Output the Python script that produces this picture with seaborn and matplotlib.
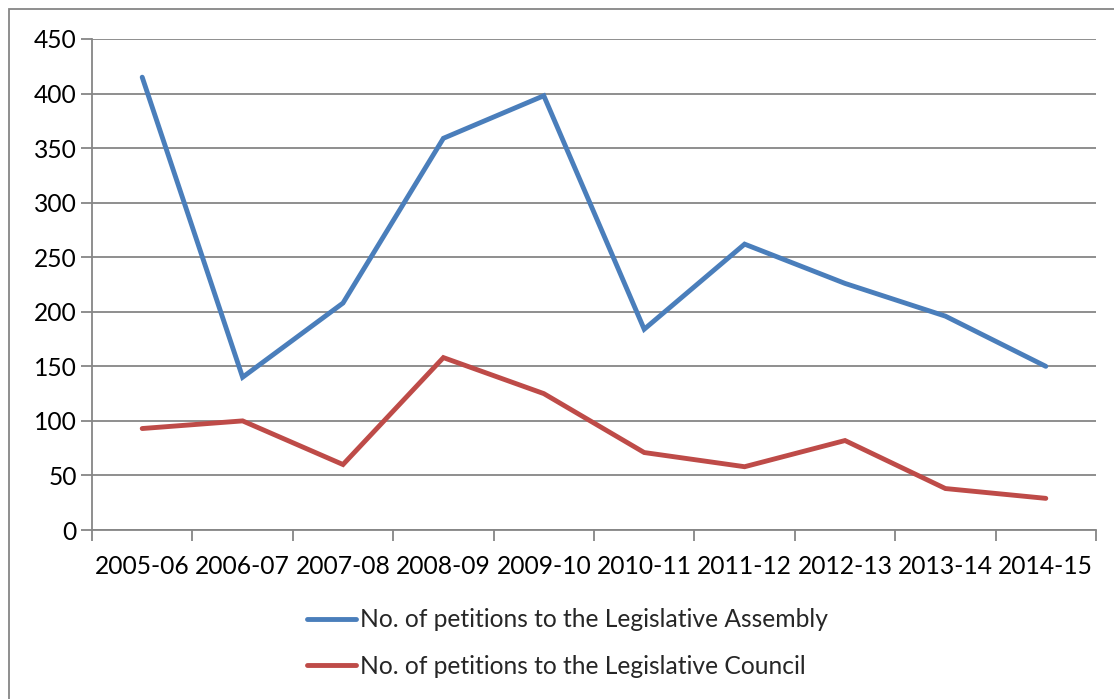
import matplotlib
matplotlib.use("Agg")
import matplotlib.pyplot as plt
import seaborn as sns
import pandas as pd
import numpy as np
from matplotlib.patches import Rectangle
from matplotlib.lines import Line2D

years = ["2005-06", "2006-07", "2007-08", "2008-09", "2009-10",
         "2010-11", "2011-12", "2012-13", "2013-14", "2014-15"]
assembly = [415, 140, 208, 359, 398, 184, 262, 226, 196, 150]
council = [93, 100, 60, 158, 125, 71, 58, 82, 38, 29]
series_names = ["No. of petitions to the Legislative Assembly",
                "No. of petitions to the Legislative Council"]
yticks = [0, 50, 100, 150, 200, 250, 300, 350, 400, 450]

df = pd.DataFrame({
    "year": years * 2,
    "value": assembly + council,
    "series": [series_names[0]] * len(years) + [series_names[1]] * len(years),
})

sns.set_theme(style="white")
plt.rcParams["font.family"] = ["Lato", "DejaVu Sans"]

fig = plt.figure(figsize=(11.14, 6.99), dpi=100)
ax = fig.add_axes([92 / 1114, 1 - 530 / 699, (1096 - 92) / 1114, (530 - 39) / 699])

palette = {series_names[0]: "#4A7EBB", series_names[1]: "#BE4B48"}
LW = 3.5
sns.lineplot(data=df, x="year", y="value", hue="series", palette=palette,
             linewidth=LW, ax=ax, legend=False, sort=False)
for ln in ax.lines:
    ln.set_solid_capstyle("round")
    ln.set_solid_joinstyle("miter")

ax.set_xlim(-0.5, len(years) - 0.5)
ax.set_ylim(0, 450)
ax.set_yticks(yticks)
ax.set_yticklabels([str(t) for t in yticks])
ax.yaxis.grid(True, color="#868686", linewidth=1.3)
ax.set_axisbelow(True)
ax.set_xlabel("")
ax.set_ylabel("")

FS = 17.7
ax.set_xticks(range(len(years)))
ax.set_xticklabels(years)
ax.set_xticks(np.arange(-0.5, len(years), 1.0), minor=True)
ax.tick_params(axis="x", which="major", bottom=True, length=0, pad=18,
               labelsize=FS, labelcolor="black")
ax.tick_params(axis="x", which="minor", bottom=True, length=8, width=1.3,
               color="#868686", direction="out")
ax.tick_params(axis="y", which="major", left=True, length=8, width=1.3,
               color="#868686", direction="out", labelsize=FS, pad=3,
               labelcolor="black")

for side in ["top", "right"]:
    ax.spines[side].set_visible(False)
for side in ["left", "bottom"]:
    ax.spines[side].set_color("#868686")
    ax.spines[side].set_linewidth(1.3)

handles = [Line2D([0], [0], color=palette[n], linewidth=LW, solid_capstyle="round")
           for n in series_names]
fig.legend(handles, series_names, loc="center left",
           bbox_to_anchor=(307 / 1114, 1 - 643 / 699), frameon=False,
           fontsize=FS, handlelength=2.0, handletextpad=0.15,
           labelspacing=0.95, borderaxespad=0, borderpad=0)

fig.patches.append(Rectangle((9 / 1114, -0.05), 1.2, 1 - 9 / 699 + 0.05,
                             transform=fig.transFigure, fill=False,
                             edgecolor="#868686", linewidth=1.3))

fig.savefig("out.png", dpi=100, facecolor="white")
